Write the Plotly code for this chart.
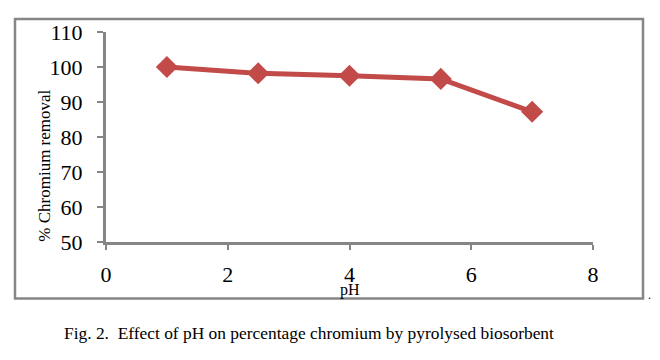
import plotly.graph_objects as go

ph = [1, 2.5, 4, 5.5, 7]
removal = [100, 98.2, 97.5, 96.6, 87.2]
x_ticks = [0, 2, 4, 6, 8]
y_ticks = [50, 60, 70, 80, 90, 100, 110]

RED = "#C24A48"
GRAY = "#868686"
FONT = "Liberation Serif"

# page body adds 8px margin; work in page pixels and convert
OFF = 8
L, R, T, B = 106, 593, 30, 242  # plot area in page pixels
PW, PH = R - L, B - T


def px(x):
    return (x - L) / PW


def py(y):
    return (B - y) / PH


fig = go.Figure()
fig.add_trace(go.Scatter(
    x=ph, y=removal, mode="lines+markers",
    line=dict(color=RED, width=5),
    marker=dict(symbol="diamond", size=17, color=RED),
    showlegend=False, cliponaxis=False,
))

fig.update_layout(
    width=660 - OFF, height=360 - OFF,
    margin=dict(l=L - OFF, r=660 - R, t=T - OFF, b=360 - B),
    paper_bgcolor="white", plot_bgcolor="white",
    font=dict(family=FONT, color="black"),
    xaxis=dict(range=[0, 8], tickvals=x_ticks, showgrid=False, zeroline=False,
               showline=True, linecolor=GRAY, linewidth=3,
               ticks="outside", ticklen=5, tickcolor=GRAY, tickwidth=2,
               tickfont=dict(size=22, family=FONT), ticklabelstandoff=6),
    yaxis=dict(range=[50, 110], tickvals=y_ticks, showgrid=False, zeroline=False,
               showline=True, linecolor=GRAY, linewidth=3,
               ticks="outside", ticklen=6, tickcolor=GRAY, tickwidth=2,
               tickfont=dict(size=22, family=FONT), ticklabelstandoff=10),
    shapes=[dict(type="rect", xref="paper", yref="paper",
                 x0=px(15), x1=px(643), y0=py(299), y1=py(17),
                 line=dict(color=GRAY, width=2.5), layer="below")],
    annotations=[
        dict(text="pH", xref="x", yref="paper", x=4, y=py(290),
             showarrow=False, font=dict(size=16, family=FONT), borderpad=0,
             xanchor="center", yanchor="middle"),
        dict(text="% Chromium removal", xref="paper", yref="paper",
             x=px(45), y=py(165), textangle=-90,
             showarrow=False, font=dict(size=17, family=FONT), xanchor="center", yanchor="middle"),
        dict(text="Fig. 2.  Effect of pH on percentage chromium by pyrolysed biosorbent",
             xref="paper", yref="paper", x=px(309), y=py(334),
             showarrow=False, font=dict(size=17.4, family=FONT), xanchor="center", yanchor="middle"),
        dict(text=".", xref="paper", yref="paper", x=px(649), y=py(295),
             showarrow=False, font=dict(size=12, family=FONT), xanchor="center", yanchor="middle"),
    ],
)

fig.write_html("out.html")
